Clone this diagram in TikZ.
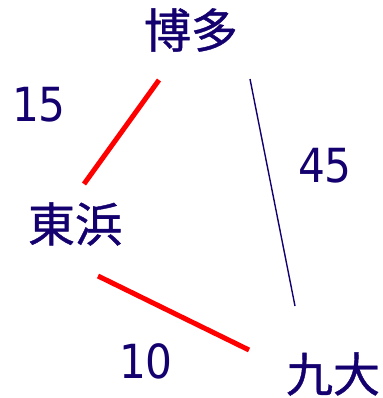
\documentclass[tikz,border=0pt]{standalone}
\usepackage{fontspec}
\newfontfamily\cjkfont[FakeBold=0.8]{Noto Sans CJK JP}
\newfontfamily\numfont{DejaVu Sans Condensed}
\definecolor{navy}{RGB}{20,0,110}
\definecolor{redline}{RGB}{255,0,0}
\begin{document}
\begin{tikzpicture}[x=1pt,y=-1pt,
  city/.style={text=navy,font=\cjkfont\fontsize{47}{50}\selectfont,inner sep=0pt},
  weight/.style={text=navy,font=\numfont\fontsize{47}{50}\selectfont,inner sep=0pt},
  rededge/.style={draw=redline,line width=5pt},
  thinedge/.style={draw=navy,line width=1.4pt}]
\useasboundingbox (0,0) rectangle (382,398);
\node[city] (hakata) at (191,30) {博多};
\node[city] (higashi) at (75,224) {東浜};
\node[city] (kyudai) at (333,374) {九大};
\node[weight] (w15) at (39,105) {15};
\node[weight] (w45) at (325,166) {45};
\node[weight] (w10) at (146,361) {10};
\coordinate (a1) at (159,80);
\coordinate (a2) at (84,184);
\coordinate (b1) at (98,276);
\coordinate (b2) at (249,350);
\coordinate (c1) at (250,79);
\coordinate (c2) at (295,306);
\draw[rededge] (a1) -- (a2);
\draw[rededge] (b1) -- (b2);
\draw[thinedge] (c1) -- (c2);
\end{tikzpicture}
\end{document}
